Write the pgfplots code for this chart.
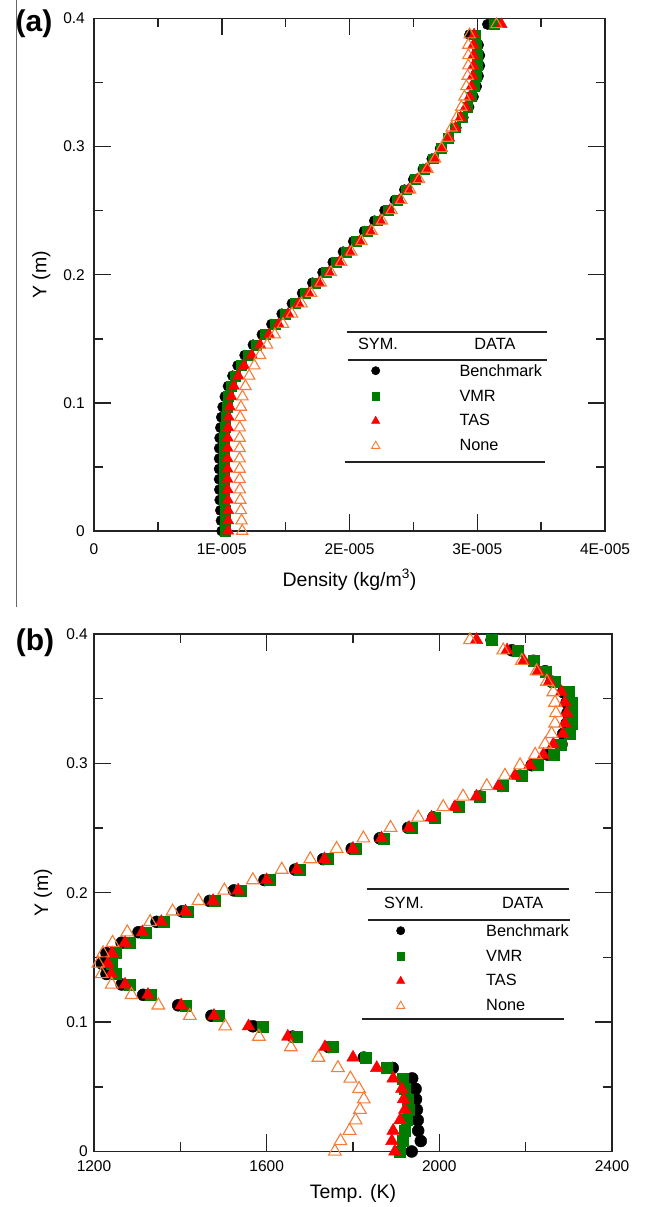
\documentclass[border=0pt]{standalone}
\usepackage{fontspec}
\setmainfont{Liberation Sans}
\usepackage{pgfplots}
\usepackage{pgfplotstable}
\pgfplotsset{compat=1.18}

\definecolor{vmrgreen}{RGB}{0,125,0}
\definecolor{tasred}{RGB}{255,0,0}
\definecolor{noneorange}{RGB}{245,125,55}
\definecolor{axgray}{RGB}{35,35,35}

\newcommand\tickfont{\fontsize{15.5}{17}\selectfont}
\newcommand\labfont{\fontsize{19.5}{22}\selectfont}
\newcommand\legfont{\fontsize{16.3}{19}\selectfont}

% Panel (a): density in units of 1E-005 kg/m^3
\pgfplotstableread{
Y b v t n
0      1.000 1.030 1.050 1.160
0.0081 0.995 1.028 1.050 1.155
0.0161 0.990 1.025 1.050 1.150
0.0242 0.985 1.022 1.048 1.145
0.0323 0.982 1.020 1.046 1.142
0.0404 0.980 1.018 1.045 1.140
0.0484 0.980 1.018 1.045 1.140
0.0565 0.980 1.018 1.045 1.140
0.0646 0.981 1.019 1.046 1.140
0.0726 0.984 1.021 1.047 1.140
0.0807 0.990 1.025 1.050 1.141
0.0888 0.997 1.031 1.055 1.144
0.0968 1.008 1.040 1.063 1.150
0.1049 1.025 1.052 1.075 1.162
0.1130 1.050 1.075 1.095 1.185
0.1211 1.085 1.107 1.130 1.215
0.1291 1.125 1.150 1.175 1.255
0.1372 1.180 1.207 1.235 1.300
0.1453 1.245 1.272 1.300 1.355
0.1533 1.315 1.343 1.370 1.415
0.1614 1.390 1.418 1.445 1.480
0.1695 1.470 1.495 1.520 1.550
0.1775 1.550 1.575 1.600 1.625
0.1856 1.630 1.655 1.680 1.700
0.1937 1.710 1.735 1.760 1.775
0.2018 1.790 1.815 1.840 1.855
0.2098 1.870 1.895 1.920 1.935
0.2179 1.950 1.975 2.000 2.015
0.2260 2.030 2.055 2.080 2.095
0.2340 2.115 2.140 2.160 2.175
0.2421 2.195 2.220 2.240 2.255
0.2502 2.275 2.300 2.315 2.330
0.2582 2.355 2.375 2.390 2.405
0.2663 2.430 2.445 2.460 2.475
0.2744 2.500 2.515 2.530 2.545
0.2825 2.575 2.585 2.600 2.610
0.2905 2.645 2.655 2.665 2.670
0.2986 2.710 2.720 2.725 2.720
0.3067 2.775 2.775 2.780 2.765
0.3147 2.835 2.830 2.830 2.800
0.3228 2.890 2.880 2.870 2.840
0.3309 2.935 2.925 2.910 2.875
0.3389 2.970 2.955 2.940 2.900
0.3470 2.995 2.980 2.955 2.915
0.3551 3.010 2.990 2.965 2.925
0.3632 3.020 3.000 2.970 2.930
0.3712 3.020 3.000 2.970 2.930
0.3793 3.010 2.995 2.970 2.930
0.3874 2.940 2.985 2.975 2.940
0.3954 3.080 3.130 3.190 3.150
}\dataA

% Panel (b): temperature in K
\pgfplotstableread{
Y b v t n
0      1936 1909 1897 1758
0.0081 1957 1916 1890 1771
0.0161 1951 1920 1893 1792
0.0242 1950 1924 1909 1806
0.0323 1948 1928 1920 1816
0.0404 1946 1926 1917 1825
0.0484 1945 1920 1913 1814
0.0565 1937 1916 1893 1794
0.0646 1892 1878 1855 1765
0.0726 1825 1830 1800 1720
0.0807 1744 1752 1735 1656
0.0888 1660 1670 1649 1582
0.0968 1568 1590 1558 1504
0.1049 1472 1490 1478 1422
0.1130 1395 1412 1402 1349
0.1211 1314 1332 1325 1287
0.1291 1264 1282 1272 1241
0.1372 1229 1250 1240 1218
0.1453 1218 1240 1232 1210
0.1533 1229 1250 1242 1221
0.1614 1264 1282 1272 1243
0.1695 1303 1320 1312 1277
0.1775 1345 1362 1356 1330
0.1856 1404 1416 1412 1382
0.1937 1468 1480 1476 1442
0.2018 1524 1540 1534 1502
0.2098 1595 1606 1600 1568
0.2179 1666 1676 1670 1635
0.2260 1731 1742 1734 1701
0.2340 1797 1806 1800 1762
0.2421 1862 1870 1866 1824
0.2502 1928 1935 1930 1887
0.2582 1986 1990 1982 1951
0.2663 2042 2046 2036 2009
0.2744 2094 2094 2086 2055
0.2825 2144 2146 2137 2110
0.2905 2187 2190 2175 2152
0.2986 2214 2227 2210 2187
0.3067 2252 2264 2241 2222
0.3147 2283 2280 2264 2245
0.3228 2287 2302 2286 2260
0.3309 2295 2306 2291 2268
0.3389 2297 2307 2295 2270
0.3470 2295 2306 2291 2268
0.3551 2287 2299 2283 2264
0.3632 2260 2268 2255 2249
0.3712 2245 2246 2229 2225
0.3793 2218 2218 2196 2191
0.3874 2168 2181 2157 2148
0.3954 2121 2121 2086 2071
}\dataB

\pgfplotsset{
  panel/.style={
    scale only axis, anchor=south west, clip=false,
    axis line style={axgray, line width=1.7pt},
    every tick/.style={axgray, line width=1.5pt},
    tick align=inside, tick pos=both,
    major tick length=17pt, minor tick length=9pt,
    scaled ticks=false,
    /pgf/number format/assume math mode=true,
    /pgf/number format/1000 sep={},
    tick label style={font=\tickfont, inner sep=0pt, text=black},
    label style={font=\labfont, text=black},
    ymin=0, ymax=0.4, ytick={0,0.1,0.2,0.3,0.4}, minor y tick num=1,
    ylabel={Y (m)},
  },
}

\begin{document}
\begin{tikzpicture}

% ---------- Panel (a) ----------
\begin{axis}[panel,
  at={(94pt,676pt)}, width=511pt, height=512.5pt,
  xmin=0, xmax=4, xtick={0,1,2,3,4},
  xticklabels={0,1E-005,2E-005,3E-005,4E-005},
  minor x tick num=1,
  xticklabel style={anchor=north, yshift=-12pt},
  yticklabel style={anchor=east, xshift=-9pt},
  xlabel={Density (kg/m\textsuperscript{3})},
  xlabel style={at={(axis description cs:0.5,-0.095)}, anchor=center},
  ylabel style={at={(axis description cs:-0.1033,0.5)}, anchor=center},
]
\addplot[only marks, mark=*, mark size=5.2pt, mark options={draw=black, fill=black}] table[x=b, y=Y]{\dataA};
\addplot[only marks, mark=square*, mark size=4.9pt, mark options={draw=vmrgreen, fill=vmrgreen}] table[x=v, y=Y]{\dataA};
\addplot[only marks, mark=triangle*, mark size=6.5pt, mark options={draw=tasred, fill=tasred}] table[x=t, y=Y]{\dataA};
\addplot[only marks, mark=triangle, mark size=6.5pt, mark options={draw=noneorange, line width=1.1pt, fill=none}] table[x=n, y=Y]{\dataA};
\end{axis}

% ---------- Panel (b) ----------
\begin{axis}[panel,
  at={(94pt,55.5pt)}, width=518pt, height=517.5pt,
  xmin=1200, xmax=2400, xtick={1200,1600,2000,2400},
  minor x tick num=1,
  xticklabel style={anchor=north, yshift=-9pt},
  yticklabel style={anchor=east, xshift=-6pt},
  xlabel={Temp. (K)},
  xlabel style={at={(axis description cs:0.5,-0.0812)}, anchor=center},
  ylabel style={at={(axis description cs:-0.0981,0.5)}, anchor=center},
]
\addplot[only marks, mark=*, mark size=6pt, mark options={draw=black, fill=black}] table[x=b, y=Y]{\dataB};
\addplot[only marks, mark=square*, mark size=5.5pt, mark options={draw=vmrgreen, fill=vmrgreen}] table[x=v, y=Y]{\dataB};
\addplot[only marks, mark=triangle*, mark size=7.3pt, mark options={draw=tasred, fill=tasred}] table[x=t, y=Y]{\dataB};
\addplot[only marks, mark=triangle, mark size=7.3pt, mark options={draw=noneorange, line width=1.1pt, fill=none}] table[x=n, y=Y]{\dataB};
\end{axis}

% ---------- Overlay in pixel coordinates (legends, panel tags) ----------
\begin{axis}[at={(0pt,0pt)}, anchor=south west, scale only axis,
  width=646pt, height=1207pt, xmin=0, xmax=646, ymin=0, ymax=1207,
  y dir=reverse, hide axis, clip=false]
\draw[line width=1.2pt, black!60] (axis cs:16.5,0) -- (axis cs:16.5,607);
\node[font=\fontsize{30}{32}\bfseries\selectfont, anchor=center] at (axis cs:34,24) {(a)};
\node[font=\fontsize{30}{32}\bfseries\selectfont, anchor=center] at (axis cs:35,643) {(b)};

% legend (a)
\draw[line width=2pt, axgray] (axis cs:346.7,331.7) -- (axis cs:546.7,331.7);
\draw[line width=2pt, axgray] (axis cs:347.5,360) -- (axis cs:547,360);
\draw[line width=2pt, axgray] (axis cs:345,461.7) -- (axis cs:545,461.7);
\node[font=\legfont, anchor=center] at (axis cs:378,344) {SYM.};
\node[font=\legfont, anchor=center] at (axis cs:495,344) {DATA};
\node[font=\legfont, anchor=west] at (axis cs:456,370.7) {Benchmark};
\node[font=\legfont, anchor=west] at (axis cs:456,396) {VMR};
\node[font=\legfont, anchor=west] at (axis cs:456,420) {TAS};
\node[font=\legfont, anchor=west] at (axis cs:456,445) {None};

% legend (b)
\draw[line width=2pt, axgray] (axis cs:366.7,889.3) -- (axis cs:569.3,889.3);
\draw[line width=2pt, axgray] (axis cs:367.7,920) -- (axis cs:570,920);
\draw[line width=2pt, axgray] (axis cs:361.7,1019.3) -- (axis cs:564.3,1019.3);
\node[font=\legfont, anchor=center] at (axis cs:404,902.7) {SYM.};
\node[font=\legfont, anchor=center] at (axis cs:522.7,902.7) {DATA};
\node[font=\legfont, anchor=west] at (axis cs:482.7,930.7) {Benchmark};
\node[font=\legfont, anchor=west] at (axis cs:482.7,956) {VMR};
\node[font=\legfont, anchor=west] at (axis cs:482.7,980) {TAS};
\node[font=\legfont, anchor=west] at (axis cs:482.7,1005) {None};

% legend symbols (plotted through the overlay axis)
\addplot[only marks, mark=*, mark size=4.2pt, mark options={draw=black, fill=black}] coordinates {(375.7,370.7) (400.7,930.7)};
\addplot[only marks, mark=square*, mark size=3.7pt, mark options={draw=vmrgreen, fill=vmrgreen}] coordinates {(375.7,396) (400.7,956)};
\addplot[only marks, mark=triangle*, mark size=4.8pt, mark options={draw=tasred, fill=tasred}] coordinates {(375.7,421) (400.7,981)};
\addplot[only marks, mark=triangle, mark size=4.8pt, mark options={draw=noneorange, line width=0.9pt, fill=none}] coordinates {(375.7,446) (400.7,1006)};
\end{axis}

\pgfresetboundingbox
\path[use as bounding box] (0,0) rectangle (646pt,1207pt);
\end{tikzpicture}
\end{document}
